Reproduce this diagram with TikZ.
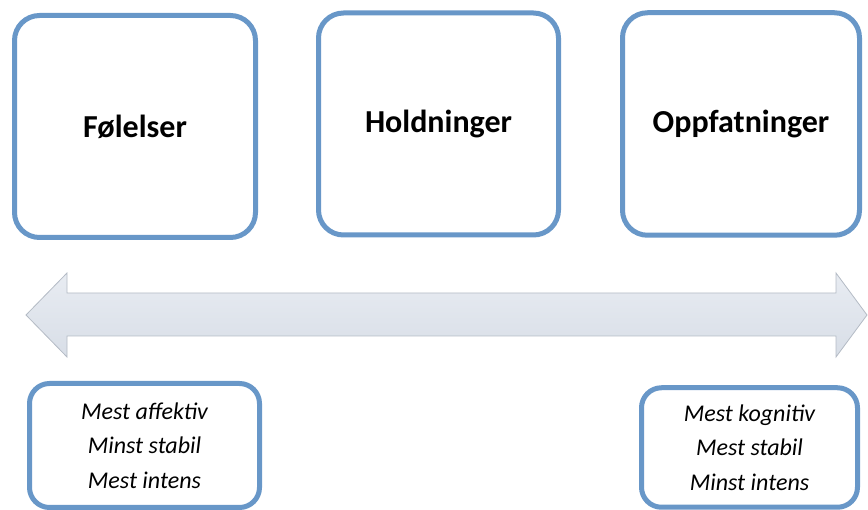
\documentclass[tikz,border=0pt]{standalone}
\usepackage{fontspec}
\setmainfont{Carlito}
\definecolor{boxblue}{HTML}{6897C8}
\definecolor{arrowtop}{HTML}{E8ECF2}
\definecolor{arrowbot}{HTML}{D8DEE7}
\definecolor{arrowedge}{HTML}{B4BBC5}
\tikzset{
  bigbox/.style={draw=boxblue, line width=5pt, rounded corners=25pt, fill=white,
    inner sep=0pt, font=\fontsize{32}{38}\selectfont\bfseries},
  notebox/.style={draw=boxblue, line width=5pt, rounded corners=20pt, fill=white,
    inner sep=0pt, align=center, font=\fontsize{24}{34.5}\selectfont\itshape},
}
\begin{document}
\begin{tikzpicture}[x=1pt,y=-1pt]
\useasboundingbox (0,0) rectangle (868,510);

% top row of concept boxes
\node[bigbox, minimum width=241pt, minimum height=222pt] (fol) at (135,126.5) {Følelser};
\node[bigbox, minimum width=240pt, minimum height=222pt] (hol) at (438.5,124) {Holdninger};
\node[bigbox, minimum width=237pt, minimum height=222.5pt] (opp) at (741,124) {Oppfatninger};

% double-headed scale arrow
\path[top color=arrowtop, bottom color=arrowbot, draw=arrowedge, line width=0.8pt]
  (26,315) -- (67,273) -- (67,293) -- (836,293) -- (836,273) -- (867,315)
  -- (836,357) -- (836,336) -- (67,336) -- (67,357) -- cycle;

% notes at the two ends of the scale
\node[notebox, minimum width=230pt, minimum height=124pt] (left) at (144.5,445.5)
  {Mest affektiv\\Minst stabil\\Mest intens};
\node[notebox, minimum width=216pt, minimum height=119.5pt] (right) at (749.5,447.5)
  {Mest kognitiv\\Mest stabil\\Minst intens};
\end{tikzpicture}
\end{document}
